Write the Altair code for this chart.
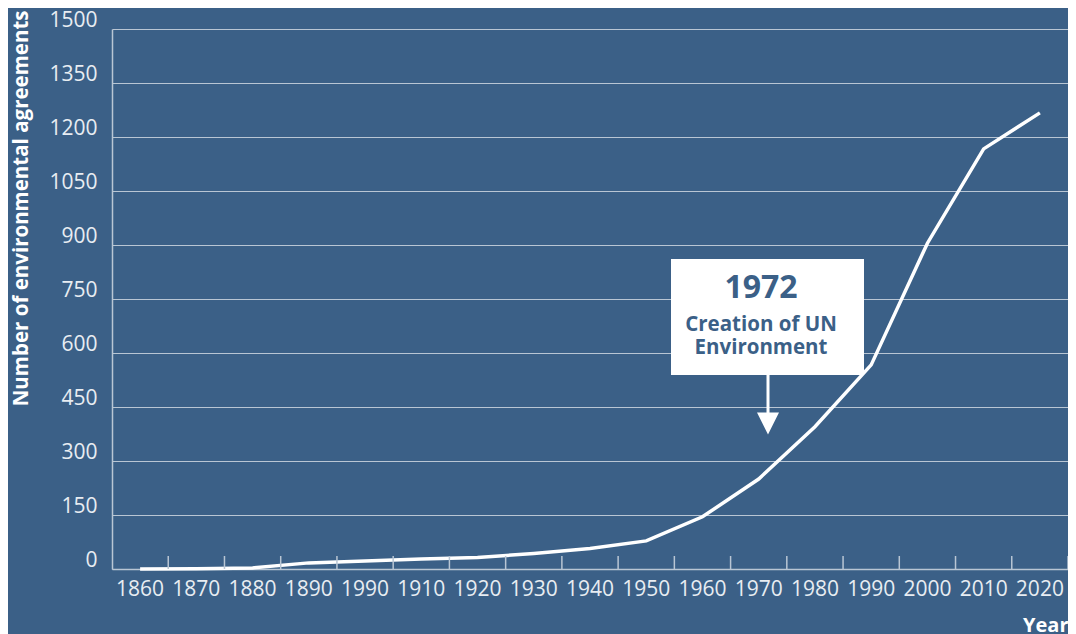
import json
import altair as alt
import pandas as pd

# ---- data ----
years = [1860, 1870, 1880, 1890, 1900, 1910, 1920, 1930, 1940, 1950,
         1960, 1970, 1980, 1990, 2000, 2010, 2020]
tick_labels = ["1860", "1870", "1880", "1890", "1990", "1910", "1920", "1930",
               "1940", "1950", "1960", "1970", "1980", "1990", "2000", "2010", "2020"]
agreements = [0, 1, 3, 17, 22, 28, 32, 43, 57, 78,
              145, 250, 395, 567, 905, 1167, 1267]
y_ticks = [0, 150, 300, 450, 600, 750, 900, 1050, 1200, 1350, 1500]

annot_year = "1972"
annot_lines = ["Creation of UN", "Environment"]

y_title = "Number of environmental agreements"
x_title = "Year"

BG = "#3b6087"
GRID = "#b9c6d4"
LABEL = "#e8edf2"
FONT = "Open Sans"

df = pd.DataFrame({"year": years, "value": agreements})

W, H = 956, 540

label_expr = f"{json.dumps(tick_labels)}[indexof({json.dumps(years)}, datum.value)]"

xscale = alt.Scale(type="band", paddingInner=0, paddingOuter=0)

line = alt.Chart(df).mark_line(color="white", strokeWidth=3.5, strokeJoin="miter").encode(
    x=alt.X("year:O", scale=xscale, bandPosition=0.5,
            axis=alt.Axis(ticks=False, grid=False, domain=True, domainColor=GRID,
                          domainWidth=1.5, labelAngle=0, labelExpr=label_expr,
                          labelPadding=9, labelFontSize=21, labelColor=LABEL,
                          labelFont=FONT, labelBaseline="top",
                          title=x_title, titleFont=FONT, titleFontSize=20,
                          titleFontWeight="bold", titleColor="white",
                          titleAnchor="end", titleAlign="right", titleBaseline="alphabetic",
                          titleX=W, titleY=62)),
    y=alt.Y("value:Q", scale=alt.Scale(domain=[0, 1500], nice=False, zero=True),
            axis=alt.Axis(values=y_ticks, format="d", ticks=False, grid=True, gridColor=GRID,
                          gridWidth=1.2, domain=True, domainColor=GRID, domainWidth=1.5,
                          labelPadding=15, labelFontSize=21, labelColor=LABEL,
                          labelFont=FONT, labelBaseline="alphabetic", labelOffset=-3,
                          title=y_title, titleFont=FONT, titleFontSize=20.5,
                          titleFontWeight="bold", titleColor="white",
                          titleAngle=270, titleAlign="right", titleBaseline="alphabetic",
                          titleX=-85, titleY=-19)),
)

ticks = alt.Chart(df).mark_rule(color=GRID, strokeWidth=1.5).encode(
    x=alt.X("year:O", scale=xscale, bandPosition=1),
    y=alt.value(H - 13),
    y2=alt.value(H),
)

one = alt.Data(values=[{"k": 1}])

box = alt.Chart(one).mark_rect(color="white").encode(
    x=alt.value(559), x2=alt.value(752), y=alt.value(230), y2=alt.value(346)
)

t_year = alt.Chart(one).mark_text(
    text=annot_year, font=FONT, fontSize=32, fontWeight="bold", color=BG,
    align="center", baseline="alphabetic"
).encode(x=alt.value(649), y=alt.value(269))

t_desc = alt.Chart(one).mark_text(
    text=annot_lines, font=FONT, fontSize=20.5, fontWeight="bold", color=BG,
    align="center", baseline="alphabetic", lineHeight=23
).encode(x=alt.value(649), y=alt.value(302))

arrow_line = alt.Chart(one).mark_rule(color="white", strokeWidth=3).encode(
    x=alt.value(656), y=alt.value(346), y2=alt.value(386)
)

arrow_head = alt.Chart(one).mark_point(
    shape="M-1,-1L1,-1L0,1Z", filled=True, color="white", opacity=1, size=484, strokeWidth=0
).encode(x=alt.value(656), y=alt.value(394.5))

chart = alt.layer(line, ticks, box, t_year, t_desc, arrow_line, arrow_head).properties(
    width=W, height=H,
    background=BG,
    autosize=alt.AutoSizeParams(type="none"),
    padding={"left": 104, "top": 21, "right": 0, "bottom": 65},
).configure_view(stroke=None)

chart.save("out.html", embed_options={"renderer": "svg", "actions": False})
